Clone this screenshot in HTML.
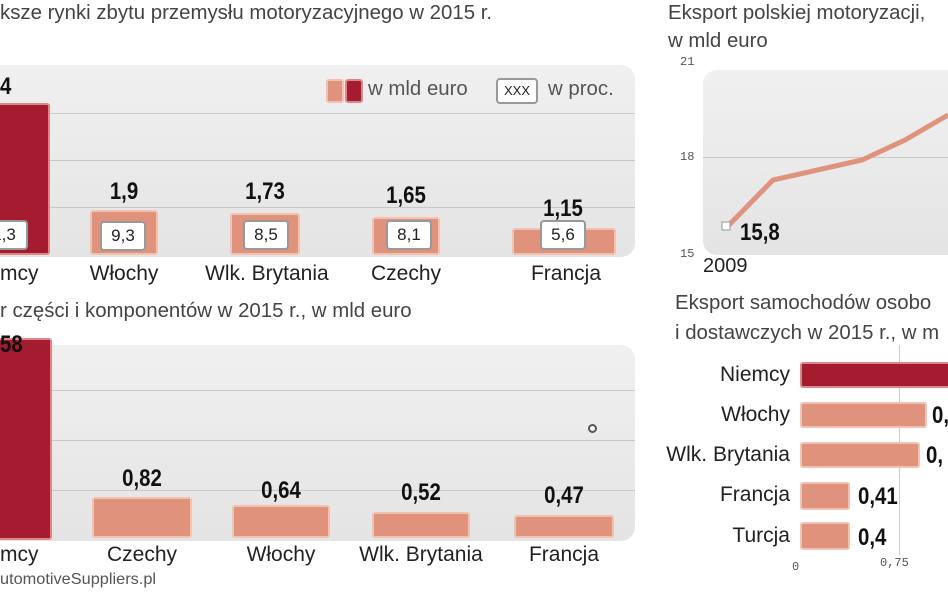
<!DOCTYPE html>
<html><head><meta charset="utf-8"><style>
body{margin:0;width:948px;height:593px;overflow:hidden;background:#fff;font-family:"Liberation Sans Narrow","Liberation Sans",sans-serif;color:#222;position:relative}
div{position:absolute;box-sizing:border-box}
.t{font-size:20px;color:#444;white-space:nowrap;transform:scaleX(1.02);transform-origin:left}
.panel{background:linear-gradient(#f0f0f0,#e4e4e4);border-radius:14px}
.g{height:1px;background:#c8c8c8}
.b{background:#e0937c;border:2px solid #f2c2b0;border-radius:3px}
.d{background:#a51b30;border:2px solid #d88;border-radius:3px}
.v{font-weight:bold;font-size:24px;color:#111;white-space:nowrap;transform:scaleX(.85)}
.c{font-size:21px;color:#222;white-space:nowrap;text-align:center;transform:scaleX(1)}
.r{transform-origin:right}
.w{background:#fff;border:2px solid #999;border-radius:4px;font-size:17px;text-align:center;line-height:26px;height:30px;width:48px}
.s{font-size:12px;color:#555;font-family:"Liberation Mono",monospace}
</style></head><body>
<!-- top left -->
<div class="t" style="left:0;top:2px">ksze rynki zbytu przemysłu motoryzacyjnego w 2015 r.</div>
<div class="panel" style="left:-20px;top:65px;width:655px;height:192px"></div>
<div class="g" style="left:0;top:113px;width:635px"></div>
<div class="g" style="left:0;top:160px;width:635px"></div>
<div class="g" style="left:0;top:207px;width:635px"></div>
<div class="b" style="left:326px;top:79px;width:18px;height:24px"></div>
<div class="d" style="left:345px;top:79px;width:18px;height:24px"></div>
<div class="t" style="left:368px;top:78px;color:#555">w mld euro</div>
<div class="w" style="left:496px;top:78px;width:42px;height:26px;line-height:22px;font-size:13px">XXX</div>
<div class="t" style="left:548px;top:78px;color:#555">w proc.</div>
<div class="v" style="left:0;top:73px;transform-origin:left">4</div>
<div class="d" style="left:-10px;top:103px;width:60px;height:152px"></div>
<div class="w" style="left:-20px;top:220px">1,3</div>
<div class="c" style="left:0;top:262px;transform-origin:left">mcy</div>
<div class="v" style="left:74px;top:178px;width:100px;text-align:center">1,9</div>
<div class="b" style="left:90px;top:210px;width:68px;height:45px"></div>
<div class="w" style="left:100px;top:221px;width:46px">9,3</div>
<div class="c" style="left:74px;top:262px;width:100px">Włochy</div>
<div class="v" style="left:210px;top:178px;width:110px;text-align:center">1,73</div>
<div class="b" style="left:230px;top:213px;width:70px;height:42px"></div>
<div class="w" style="left:243px;top:220px;width:46px">8,5</div>
<div class="c" style="left:205px;top:262px;width:120px">Wlk. Brytania</div>
<div class="v" style="left:351px;top:182px;width:110px;text-align:center">1,65</div>
<div class="b" style="left:372px;top:217px;width:68px;height:38px"></div>
<div class="w" style="left:386px;top:220px;width:46px">8,1</div>
<div class="c" style="left:356px;top:262px;width:100px">Czechy</div>
<div class="v" style="left:508px;top:195px;width:110px;text-align:center">1,15</div>
<div class="b" style="left:512px;top:228px;width:104px;height:27px"></div>
<div class="w" style="left:540px;top:220px;width:46px">5,6</div>
<div class="c" style="left:516px;top:262px;width:100px">Francja</div>
<!-- bottom left -->
<div class="t" style="left:0;top:300px">r części i komponentów w 2015 r.,  w mld euro</div>
<div class="panel" style="left:-20px;top:345px;width:655px;height:196px"></div>
<div class="g" style="left:0;top:390px;width:635px"></div>
<div class="g" style="left:0;top:440px;width:635px"></div>
<div class="g" style="left:0;top:490px;width:635px"></div>
<div style="left:588px;top:424px;width:9px;height:9px;border:2px solid #555;border-radius:50%;background:#fff"></div>
<div class="d" style="left:-10px;top:338px;width:62px;height:202px"></div>
<div class="v" style="left:0;top:331px;transform-origin:left">58</div>
<div class="c" style="left:0;top:543px;transform-origin:left">mcy</div>
<div class="v" style="left:92px;top:465px;width:100px;text-align:center">0,82</div>
<div class="b" style="left:92px;top:497px;width:100px;height:41px"></div>
<div class="c" style="left:92px;top:543px;width:100px">Czechy</div>
<div class="v" style="left:232px;top:477px;width:98px;text-align:center">0,64</div>
<div class="b" style="left:232px;top:505px;width:98px;height:33px"></div>
<div class="c" style="left:232px;top:543px;width:98px">Włochy</div>
<div class="v" style="left:372px;top:479px;width:98px;text-align:center">0,52</div>
<div class="b" style="left:372px;top:512px;width:98px;height:26px"></div>
<div class="c" style="left:356px;top:543px;width:130px">Wlk. Brytania</div>
<div class="v" style="left:514px;top:482px;width:100px;text-align:center">0,47</div>
<div class="b" style="left:514px;top:515px;width:100px;height:23px"></div>
<div class="c" style="left:514px;top:543px;width:100px">Francja</div>
<div class="t" style="left:0;top:571px;font-size:16px;color:#555">utomotiveSuppliers.pl</div>
<!-- top right -->
<div class="t" style="left:668px;top:2px">Eksport polskiej motoryzacji,</div>
<div class="t" style="left:668px;top:30px">w mld euro</div>
<div class="panel" style="left:703px;top:70px;width:280px;height:185px"></div>
<div class="g" style="left:703px;top:157px;width:245px"></div>
<div class="s" style="left:680px;top:55px">21</div>
<div class="s" style="left:680px;top:150px">18</div>
<div class="s" style="left:680px;top:247px">15</div>
<svg style="position:absolute;left:0;top:0" width="948" height="593"><polyline points="728,226 773,180 862,160 905,140 948,115" fill="none" stroke="#e0937c" stroke-width="5"/><rect x="722" y="222" width="8" height="8" fill="#fff" stroke="#999"/></svg>
<div class="v" style="left:740px;top:219px;transform-origin:left">15,8</div>
<div class="c" style="left:703px;top:255px;font-size:20px;transform-origin:left">2009</div>
<!-- bottom right -->
<div class="t" style="left:675px;top:292px">Eksport samochodów osobo</div>
<div class="t" style="left:675px;top:322px">i dostawczych w 2015 r., w m</div>
<div style="left:899px;top:345px;width:1px;height:210px;background:#ccc"></div>
<div class="c r" style="left:640px;top:363px;width:150px;text-align:right">Niemcy</div>
<div class="d" style="left:800px;top:362px;width:160px;height:26px"></div>
<div class="c r" style="left:640px;top:403px;width:150px;text-align:right">Włochy</div>
<div class="b" style="left:800px;top:402px;width:127px;height:26px"></div>
<div class="v" style="left:932px;top:402px;transform-origin:left">0,</div>
<div class="c r" style="left:640px;top:443px;width:150px;text-align:right">Wlk. Brytania</div>
<div class="b" style="left:800px;top:442px;width:120px;height:26px"></div>
<div class="v" style="left:926px;top:442px;transform-origin:left">0,</div>
<div class="c r" style="left:640px;top:483px;width:150px;text-align:right">Francja</div>
<div class="b" style="left:800px;top:482px;width:50px;height:28px"></div>
<div class="v" style="left:858px;top:483px;transform-origin:left">0,41</div>
<div class="c r" style="left:640px;top:524px;width:150px;text-align:right">Turcja</div>
<div class="b" style="left:800px;top:522px;width:50px;height:28px"></div>
<div class="v" style="left:858px;top:524px;transform-origin:left">0,4</div>
<div class="s" style="left:792px;top:560px">0</div>
<div class="s" style="left:880px;top:556px">0,75</div>
</body></html>
